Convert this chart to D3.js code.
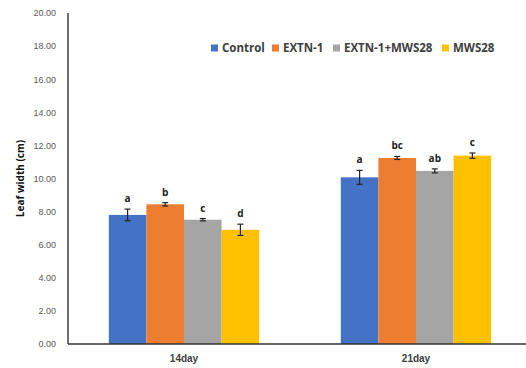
<!DOCTYPE html>
<html>
<head>
<meta charset="utf-8">
<script src="https://cdn.jsdelivr.net/npm/d3@7"></script>
<style>
  html, body { margin: 0; padding: 0; background: #fff; }
  svg { display: block; font-family: "Open Sans", "Liberation Sans", sans-serif; }
</style>
</head>
<body>
<svg id="chart" width="526" height="368"></svg>
<script>
// Leaf width measurements per treatment and sampling day
const days = ["14day", "21day"];
const treatments = ["Control", "EXTN-1", "EXTN-1+MWS28", "MWS28"];
const colors = ["#4472C4", "#ED7D31", "#A5A5A5", "#FFC000"];
const meanControl = [7.80, 10.07];
const meanExtn = [8.44, 11.24];
const meanCombo = [7.51, 10.46];
const meanMws = [6.90, 11.38];
const errControl = [0.35, 0.42];
const errExtn = [0.10, 0.09];
const errCombo = [0.07, 0.12];
const errMws = [0.34, 0.16];
const lettersControl = ["a", "a"];
const lettersExtn = ["b", "bc"];
const lettersCombo = ["c", "ab"];
const lettersMws = ["d", "c"];
const yTicks = [0, 2, 4, 6, 8, 10, 12, 14, 16, 18, 20];

const means = [meanControl, meanExtn, meanCombo, meanMws];
const errs = [errControl, errExtn, errCombo, errMws];
const letters = [lettersControl, lettersExtn, lettersCombo, lettersMws];

const rows = [];
days.forEach((d, di) => {
  treatments.forEach((t, ti) => {
    rows.push({ day: d, treat: t, ti, v: means[ti][di], e: errs[ti][di], lab: letters[ti][di] });
  });
});

const svg = d3.select("#chart");
const mLeft = 68, mRight = 532, mTop = 13, mBottom = 344;

const x0 = d3.scaleBand().domain(days).range([mLeft, mRight]).padding(0);
// four bars of equal width centred in each group
const barW = 37.6;
const groupPad = (x0.bandwidth() - barW * 4) / 2;
const x1 = d3.scaleBand().domain(treatments).range([groupPad, groupPad + barW * 4]).padding(0);

const y = d3.scaleLinear().domain([0, 20]).range([mBottom, mTop]);

// y axis: labels only, with a plain axis line
const yAxis = svg.append("g").attr("transform", `translate(${mLeft},0)`)
  .call(d3.axisLeft(y).tickValues(yTicks).tickFormat(d3.format(".2f")).tickSize(0).tickPadding(12));
yAxis.select(".domain").remove();
yAxis.selectAll("text").attr("fill", "#595959").attr("font-size", 9);

svg.append("line").attr("x1", mLeft).attr("x2", mLeft).attr("y1", y(20)).attr("y2", mBottom)
  .attr("stroke", "#222").attr("stroke-width", 1.3);

// bars
svg.append("g").selectAll("rect").data(rows).join("rect")
  .attr("x", d => x0(d.day) + x1(d.treat))
  .attr("width", x1.bandwidth())
  .attr("y", d => y(d.v))
  .attr("height", d => y(0) - y(d.v))
  .attr("fill", d => colors[d.ti]);

// error bars
const eb = svg.append("g").selectAll("g").data(rows).join("g")
  .attr("transform", d => `translate(${x0(d.day) + x1(d.treat) + x1.bandwidth() / 2},0)`);
eb.append("line").attr("x1", 0).attr("x2", 0)
  .attr("y1", d => y(d.v + d.e)).attr("y2", d => y(d.v - d.e))
  .attr("stroke", "#222").attr("stroke-width", 1.2);
eb.append("line").attr("x1", -3).attr("x2", 3)
  .attr("y1", d => y(d.v + d.e)).attr("y2", d => y(d.v + d.e))
  .attr("stroke", "#222").attr("stroke-width", 1.2);
eb.append("line").attr("x1", -3).attr("x2", 3)
  .attr("y1", d => y(d.v - d.e)).attr("y2", d => y(d.v - d.e))
  .attr("stroke", "#222").attr("stroke-width", 1.2);

// significance letters
eb.append("text")
  .attr("y", d => y(d.v + d.e) - 7)
  .attr("text-anchor", "middle")
  .attr("font-size", 10).attr("font-weight", "bold").attr("fill", "#222")
  .text(d => d.lab);

// x axis line and day labels
svg.append("line").attr("x1", mLeft).attr("x2", 526).attr("y1", mBottom).attr("y2", mBottom)
  .attr("stroke", "#333").attr("stroke-width", 1.5);
const xAxis = svg.append("g").attr("transform", `translate(0,${mBottom})`)
  .call(d3.axisBottom(x0).tickSize(0).tickPadding(11));
xAxis.select(".domain").remove();
xAxis.selectAll("text").attr("fill", "#404040").attr("font-size", 10).attr("font-weight", "bold");

// y axis title
svg.append("text")
  .attr("transform", `translate(24,${(mTop + mBottom) / 2}) rotate(-90)`)
  .attr("text-anchor", "middle")
  .attr("font-size", 10).attr("font-weight", "bold").attr("fill", "#111")
  .text("Leaf width (cm)");

// legend
const legendX = [211, 272, 333, 442];
const lg = svg.append("g").selectAll("g").data(treatments).join("g")
  .attr("transform", (d, i) => `translate(${legendX[i]},48)`);
lg.append("rect").attr("x", 0).attr("y", -3.5).attr("width", 7).attr("height", 7)
  .attr("fill", (d, i) => colors[i]);
lg.append("text").attr("x", 11).attr("y", 0).attr("dy", "0.35em")
  .attr("font-size", 11.5).attr("font-weight", "bold").attr("fill", "#404040")
  .text(d => d);
</script>
</body>
</html>
